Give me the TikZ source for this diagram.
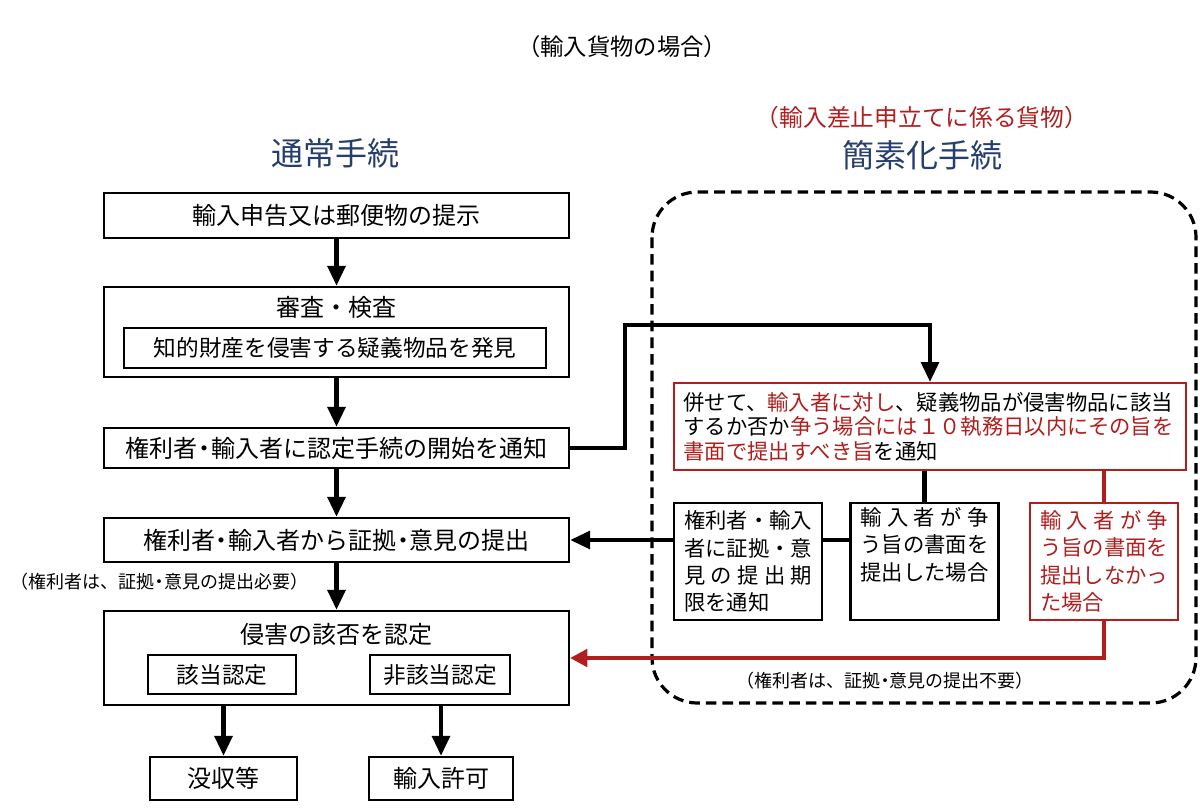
\documentclass[tikz,border=0pt]{standalone}
\usepackage{fontspec}
\setmainfont{Noto Sans CJK JP}
\usepackage{tikz}
\usetikzlibrary{calc}
\usetikzlibrary{arrows.meta}
\usetikzlibrary{positioning}
\usepackage{color}
\definecolor{darkbrick}{RGB}{176, 30, 30}
\definecolor{duskblue}{RGB}{38, 62, 110}
% one line of a side box, spread over its full width
\newcommand{\spreadline}[1]{\makebox[96pt]{#1}}
% narrow middle dot
\newcommand{\nakaguro}{\makebox[0.55em]{・}}

\tikzset{
  heading/.style={font=\fontsize{24}{28}\selectfont, text=duskblue},
  note/.style={font=\fontsize{13.5}{16}\selectfont},
  box/.style={draw, line width=1.6pt, inner sep=0pt, minimum width=348.75pt, font=\fontsize{18}{22}\selectfont},
  subbox/.style={draw, line width=1.2pt, inner sep=0pt, font=\fontsize{17}{21}\selectfont},
  sidebox/.style={draw, line width=1.6pt, inner sep=0pt, minimum width=111pt, minimum height=87.75pt,
                  text width=96pt, align=left, font=\fontsize{16}{20.5}\selectfont},
  arr/.style={line width=3.5pt, -{Triangle[length=15pt, width=13pt]}},
  link/.style={line width=3.5pt},
  redlink/.style={line width=3pt, color=darkbrick},
  redarr/.style={line width=3pt, color=darkbrick, -{Triangle[length=13pt, width=13pt]}}
}

\begin{document}
\begin{tikzpicture}[x=0.75pt, y=-0.75pt]
  \useasboundingbox (0,0) rectangle (1200,808);
  % Headings
  \node[font=\fontsize{17.5}{21}\selectfont]                  (title)  at (622, 47) {（輸入貨物の場合）};
  \node[heading]                                              (normal) at (335,153) {通常手続};
  \node[font=\fontsize{17.8}{21}\selectfont, text=darkbrick] (target) at (922,117) {（輸入差止申立てに係る貨物）};
  \node[heading]                                              (simple) at (922,155) {簡素化手続};
  % Frame of the simplified procedure
  \draw[line width=2.4pt, dash pattern=on 8pt off 4.5pt, rounded corners=34pt] (652,192) rectangle (1196,703);

  % Normal procedure
  \node[box, minimum height=33.75pt] (shinkoku) at (336.5,215.5) {輸入申告又は郵便物の提示};
  \node[box, minimum height=67.5pt]  (shinsa)   at (336.5,332) {};
  \node[font=\fontsize{18}{22}\selectfont] (shinsatitle) at (336.5,307) {審査・検査};
  \node[subbox, minimum width=316.5pt, minimum height=30pt] (hakken) at (335,348) {知的財産を侵害する疑義物品を発見};
  \node[box, minimum height=30pt]    (kaishi)   at (336.5,448) {権利者\nakaguro 輸入者に認定手続の開始を通知};
  \node[box, minimum height=33pt]    (shoko)    at (336.5,540) {権利者\nakaguro 輸入者から証拠\nakaguro 意見の提出};
  \node[note, anchor=west]           (hitsuyo)  at (6,582) {（権利者は、証拠\nakaguro 意見の提出必要）};
  \node[box, minimum height=70.5pt]  (kekka)    at (336.5,658) {};
  \node[font=\fontsize{18}{22}\selectfont] (kekkatitle) at (336.5,634) {侵害の該否を認定};
  \node[subbox, minimum width=111pt, minimum height=29.25pt] (gaitou)   at (222,674.5) {該当認定};
  \node[subbox, minimum width=105pt, minimum height=29.25pt] (higaitou) at (440,674.5) {非該当認定};
  \node[box, minimum width=110.25pt, minimum height=32.25pt] (bosshu) at (223.5,778.5) {没収等};
  \node[box, minimum width=108pt,    minimum height=32.25pt] (kyoka)  at (441,778.5) {輸入許可};

  % Simplified procedure
  \node[draw=darkbrick, line width=1.4pt, inner sep=0pt, minimum width=384pt, minimum height=65.25pt,
        text width=370pt, align=left, font=\fontsize{16}{18.4}\selectfont] (heiseto) at (930,426.5)
       {併せて、\textcolor{darkbrick}{輸入者に対し}、疑義物品が侵害物品に該当\\
        するか否か\textcolor{darkbrick}{争う場合には１０執務日以内にその旨を}\\
        \textcolor{darkbrick}{書面で提出すべき旨}を通知};
  \node[sidebox] (kigen) at (748,561.5)
       {\spreadline{権\hfill 利\hfill 者\hfill ・\hfill 輸\hfill 入}\\
        \spreadline{者\hfill に\hfill 証\hfill 拠\hfill ・\hfill 意}\\
        \spreadline{見\hfill の\hfill 提\hfill 出\hfill 期}\\
        限を通知};
  \node[sidebox] (teishutsu) at (924.5,561.5)
       {\spreadline{輸\hfill 入\hfill 者\hfill が\hfill 争}\\
        う旨の書面を\\
        提出した場合\\
        \strut};
  \node[sidebox, draw=darkbrick, text=darkbrick] (fuseishutsu) at (1104,561.5)
       {\spreadline{輸\hfill 入\hfill 者\hfill が\hfill 争}\\
        う旨の書面を\\
        提出しなかっ\\
        た場合};
  \node[note] (fuyo) at (885,681) {（権利者は、証拠\nakaguro 意見の提出不要）};

  % Connectors
  \draw[arr] (shinkoku.south) -- (shinsa.north);
  \draw[arr] (shinsa.south)   -- (kaishi.north);
  \draw[arr] (kaishi.south)   -- (shoko.north);
  \draw[arr] (shoko.south)    -- (kekka.north);
  \draw[arr] (bosshu.north |- kekka.south) -- (bosshu.north);
  \draw[arr] (kyoka.north |- kekka.south)  -- (kyoka.north);
  \coordinate (bend) at (625,325);
  \draw[arr] (kaishi.east) -| (bend) -| (heiseto.north);
  \draw[link] (teishutsu.north |- heiseto.south) -- (teishutsu.north);
  \draw[link] (teishutsu.west |- shoko.east) -- (kigen.east |- shoko.east);
  \draw[arr] (kigen.west |- shoko.east) -- (shoko.east);
  \draw[redlink] (fuseishutsu.north |- heiseto.south) -- (fuseishutsu.north);
  \draw[redarr] (fuseishutsu.south) |- (kekka.east);
\end{tikzpicture}
\end{document}
